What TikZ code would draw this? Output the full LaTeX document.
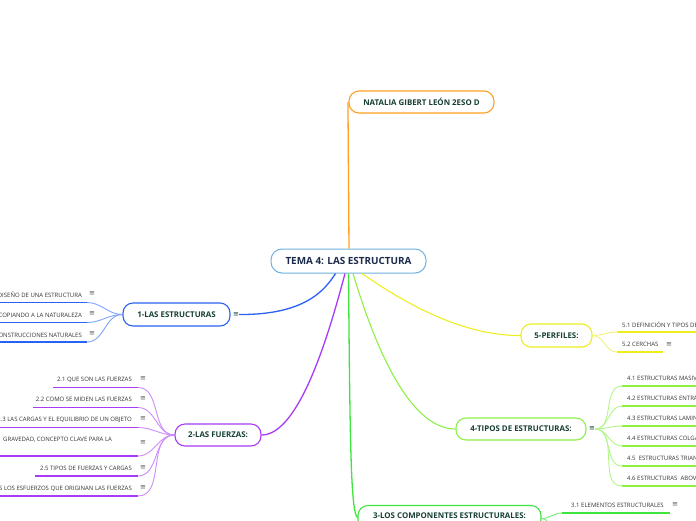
\documentclass[tikz,border=0pt]{standalone}
\usepackage{fontspec}
\setmainfont{Open Sans}
\newfontfamily\symf{DejaVu Sans}
\definecolor{orangec}{HTML}{FFA024}
\definecolor{bluec}{HTML}{2B62F5}
\definecolor{lbluec}{HTML}{7FA4F8}
\definecolor{purplec}{HTML}{A83BF5}
\definecolor{lpurplec}{HTML}{CC8CFA}
\definecolor{greenc}{HTML}{3FE43F}
\definecolor{lgreenc}{HTML}{8EF045}
\definecolor{llgreenc}{HTML}{B3F58A}
\definecolor{yellowc}{HTML}{EEEE1E}
\definecolor{lyellowc}{HTML}{F2F27A}
\definecolor{centralc}{HTML}{6FB0E0}
\definecolor{boxtext}{HTML}{173F35}
\definecolor{centraltext}{HTML}{1B2A4A}
\definecolor{childtext}{HTML}{333333}
\definecolor{iconc}{HTML}{555555}
\tikzset{
  centralbox/.style={draw=centralc, fill=white, line width=1pt, rounded corners=11pt, inner sep=0pt,
    font=\bfseries\fontsize{9.9}{11}\selectfont, text=centraltext},
  mbox/.style={fill=white, line width=1.1pt, rounded corners=10pt, inner sep=0pt, minimum height=22pt,
    font=\bfseries\fontsize{7.9}{9}\selectfont, text=boxtext},
  child/.style={inner sep=0pt, font=\fontsize{6}{7}\selectfont, text=childtext},
  ic/.style={inner sep=0pt, font=\symf\fontsize{7}{8}\selectfont, text=iconc},
  bic/.style={inner sep=0pt, font=\symf\fontsize{7}{8}\selectfont, text=boxtext},
  uline/.style={line width=1.8pt},
  conn/.style={line width=0.9pt},
  mconn/.style={line width=1.3pt}
}
\begin{document}
\begin{tikzpicture}[x=1pt,y=-1pt]
\useasboundingbox (0,0) rectangle (696,520);
\begin{scope}
\clip (0,0) rectangle (696,520);
% main nodes
\node[centralbox, minimum width=155pt, minimum height=24pt] (c) at (348.5,261) {TEMA 4: LAS ESTRUCTURA};
\node[mbox, draw=orangec, minimum width=145pt] (nat) at (421.5,102) {NATALIA GIBERT LEÓN 2ESO D};
\node[mbox, draw=bluec, minimum width=107pt, minimum height=23pt] (b1) at (176.5,314.5) {1-LAS ESTRUCTURAS};
\node[mbox, draw=purplec, minimum width=86pt] (b2) at (218,435) {2-LAS FUERZAS:};
\node[mbox, draw=greenc, minimum width=183pt, minimum height=24pt, text depth=3pt] (b3) at (449.5,517.5) {3-LOS COMPONENTES ESTRUCTURALES:};
\node[mbox, draw=lgreenc, minimum width=130pt] (b4) at (521,429) {4-TIPOS DE ESTRUCTURAS:};
\node[mbox, draw=yellowc, minimum width=71pt, minimum height=23pt] (b5) at (556.5,335.5) {5-PERFILES:};
\node[bic] (i1) at (236,314.5) {≡};
\node[bic] (i4) at (592,429) {≡};

% main connectors
\draw[mconn, orangec] ([xshift=0.5pt]c.north) -- ([xshift=-0.5pt]nat.west);
\draw[mconn, bluec] (i1.east) .. controls (305,315) and (325,290) .. ([xshift=-13pt]c.south);
\draw[mconn, purplec] (b2.east) .. controls (300,435) and (330,330) .. ([xshift=-3.5pt]c.south);
\draw[mconn, greenc] (c.south) .. controls (350,450) and (351,512) .. (b3.west);
\draw[conn, lgreenc, line width=1.1pt] ([xshift=4.5pt]c.south) .. controls (370,330) and (405,429) .. (b4.west);
\draw[conn, yellowc, line width=1.1pt] ([xshift=13.5pt]c.south) .. controls (400,300) and (460,336) .. (b5.west);

% children of 1
\node[child, anchor=east] (t11) at (82,295) {DISEÑO DE UNA ESTRUCTURA};
\node[child, anchor=east] (t12) at (82,315) {COPIANDO A LA NATURALEZA};
\node[child, anchor=east] (t13) at (82,335) {CONSTRUCCIONES NATURALES};
\node[ic] (i11) at (92,294) {≡};
\node[ic] (i12) at (92,314) {≡};
\node[ic] (i13) at (92,334) {≡};
\coordinate (u11) at (87,302.5);
\coordinate (u12) at (87,322.5);
\coordinate (u13) at (87,342);
\coordinate (v11) at (0,302.5);
\coordinate (v12) at (0,322.5);
\coordinate (v13) at (0,342);
\foreach \n in {11,12,13}{
  \draw[uline, bluec] (v\n) -- (u\n);
  \draw[conn, lbluec] (u\n) to[out=0,in=180] (b1.west);
}

% children of 2
\node[child, anchor=east] (t21) at (132,379.5) {2.1 QUE SON LAS FUERZAS};
\node[child, anchor=east] (t22) at (132,399.5) {2.2 COMO SE MIDEN LAS FUERZAS};
\node[child, anchor=east] (t23) at (132,419.5) {2.3 LAS CARGAS Y EL EQUILIBRIO DE UN OBJETO};
\node[child, anchor=west] (t24) at (3,440) {GRAVEDAD, CONCEPTO CLAVE PARA LA};
\node[child, anchor=east] (t25) at (132,468.5) {2.5 TIPOS DE FUERZAS Y CARGAS};
\node[child, anchor=east] (t26) at (132,488.5) {S LOS ESFUERZOS QUE ORIGINAN LAS FUERZAS};
\node[ic] (i21) at (143,379) {≡};
\node[ic] (i22) at (143,399) {≡};
\node[ic] (i23) at (143,419) {≡};
\node[ic] (i24) at (143,443) {≡};
\node[ic] (i25) at (143,468) {≡};
\node[ic] (i26) at (143,488) {≡};
\coordinate (u21) at (138,387.5);
\coordinate (u22) at (138,407.5);
\coordinate (u23) at (138,427.5);
\coordinate (u24) at (138,456);
\coordinate (u25) at (138,476);
\coordinate (u26) at (138,496);
\coordinate (v21) at (53,387.5);
\coordinate (v22) at (33,407.5);
\coordinate (v23) at (0,427.5);
\coordinate (v24) at (0,456);
\coordinate (v25) at (35,476);
\coordinate (v26) at (0,496);
\foreach \n in {21,22,23,24,25,26}{
  \draw[uline, purplec] (v\n) -- (u\n);
  \draw[conn, lpurplec] (u\n) to[out=0,in=180] (b2.west);
}

% children of 5
\node[child, anchor=west] (t51) at (622,324.5) {5.1 DEFINICIÓN Y TIPOS DE PERFILES};
\node[child, anchor=west] (t52) at (622,344.5) {5.2 CERCHAS};
\node[ic] (i52) at (669,344.5) {≡};
\coordinate (u51) at (617,332);
\coordinate (u52) at (617,352);
\coordinate (v51) at (700,332);
\coordinate (v52) at (663,352);
\draw[uline, yellowc] (u51) -- (v51);
\draw[uline, yellowc] (u52) -- (v52);
\foreach \n in {51,52}{
  \draw[conn, lyellowc] (b5.east) to[out=0,in=180] (u\n);
}

% children of 4
\node[child, anchor=west] (t41) at (627,378.5) {4.1 ESTRUCTURAS MASIVAS};
\node[child, anchor=west] (t42) at (627,398.5) {4.2 ESTRUCTURAS ENTRAMADAS};
\node[child, anchor=west] (t43) at (627,418.5) {4.3 ESTRUCTURAS LAMINARES};
\node[child, anchor=west] (t44) at (627,438.5) {4.4 ESTRUCTURAS COLGANTES};
\node[child, anchor=west] (t45) at (627,458.5) {4.5~ ESTRUCTURAS TRIANGULADAS};
\node[child, anchor=west] (t46) at (627,478.5) {4.6 ESTRUCTURAS~ ABOVEDADAS};
\coordinate (u41) at (622,386);
\coordinate (u42) at (622,406);
\coordinate (u43) at (622,426);
\coordinate (u44) at (622,446);
\coordinate (u45) at (622,466);
\coordinate (u46) at (622,486);
\foreach \n in {41,42,43,44,45,46}{
  \draw[uline, lgreenc] (u\n) -- ++(90,0);
  \draw[conn, llgreenc] (i4.east) to[out=0,in=180] (u\n);
}

% children of 3
\node[child, anchor=west] (t31) at (571,505.5) {3.1 ELEMENTOS ESTRUCTURALES};
\node[ic] (i31) at (675,505) {≡};
\coordinate (u31) at (562,513);
\coordinate (v31) at (670,513);
\coordinate (u32) at (562,540);
\draw[uline, greenc] (u31) -- (v31);
\draw[conn, greenc!70!white] ([yshift=-1pt]b3.east) to[out=0,in=180] (u31);
\draw[conn, greenc!70!white] ([yshift=-1pt]b3.east) to[out=0,in=180] (u32);
\end{scope}
\end{tikzpicture}
\end{document}
